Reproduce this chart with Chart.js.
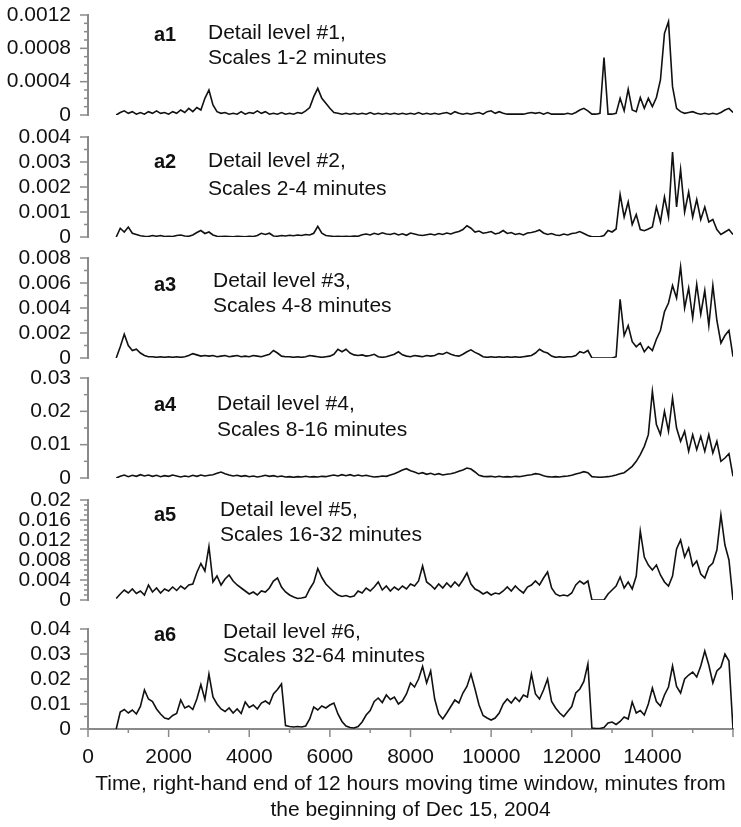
<!DOCTYPE html>
<html>
<head>
<meta charset="utf-8">
<script src="https://cdn.jsdelivr.net/npm/chart.js@4.4.1/dist/chart.umd.min.js"></script>
<style>
  html, body { margin: 0; padding: 0; background: #ffffff; }
  #wrap { position: relative; width: 741px; height: 827px; overflow: hidden;
          font-family: "Liberation Sans", Arial, sans-serif; color: #111; }
  #wrap canvas { position: absolute; left: 0; }
  .tag { position: absolute; font-weight: bold; font-size: 20px; line-height: 26px; white-space: nowrap; z-index: 5; }
  .note { position: absolute; font-size: 21px; line-height: 26px; white-space: nowrap; z-index: 5; }
</style>
</head>
<body>
<div id="wrap"></div>
<script>
// ---------------- DATA ----------------
const minutes = [
  700, 800, 900,
  1000, 1100, 1200, 1300, 1400, 1500, 1600, 1700, 1800, 1900,
  2000, 2100, 2200, 2300, 2400, 2500, 2600, 2700, 2800, 2900,
  3000, 3100, 3200, 3300, 3400, 3500, 3600, 3700, 3800, 3900,
  4000, 4100, 4200, 4300, 4400, 4500, 4600, 4700, 4800, 4900,
  5000, 5100, 5200, 5300, 5400, 5500, 5600, 5700, 5800, 5900,
  6000, 6100, 6200, 6300, 6400, 6500, 6600, 6700, 6800, 6900,
  7000, 7100, 7200, 7300, 7400, 7500, 7600, 7700, 7800, 7900,
  8000, 8100, 8200, 8300, 8400, 8500, 8600, 8700, 8800, 8900,
  9000, 9100, 9200, 9300, 9400, 9500, 9600, 9700, 9800, 9900,
  10000, 10100, 10200, 10300, 10400, 10500, 10600, 10700, 10800, 10900,
  11000, 11100, 11200, 11300, 11400, 11500, 11600, 11700, 11800, 11900,
  12000, 12100, 12200, 12300, 12400, 12500, 12600, 12700, 12800, 12900,
  13000, 13100, 13200, 13300, 13400, 13500, 13600, 13700, 13800, 13900,
  14000, 14100, 14200, 14300, 14400, 14500, 14600, 14700, 14800, 14900,
  15000, 15100, 15200, 15300, 15400, 15500, 15600, 15700, 15800, 15900,
  16000
];

const detail1 = [
  0, 0.00003, 0.00005,
  0.00002, 0.00004, 0.00001, 0.00003, 0.00001, 0.00004, 0.00002, 0.00005, 0.00002, 0.00003,
  0.00001, 0.00004, 0.00002, 0.00006, 0.00003, 0.00008, 0.00004, 0.00009, 0.00006, 0.0002,
  0.0003, 0.00012, 0.00004, 0.00002, 0.00003, 0.00001, 0.00002, 0.00001, 0.00004, 0.00001,
  0.00003, 0.00002, 0.00005, 0.00002, 0.00004, 0.00001, 0.00002, 0.00001, 0.00003, 0.00001,
  0.00002, 0.00001, 0.00003, 0.00002, 0.00005, 0.00009, 0.00022, 0.00032, 0.0002, 0.00014,
  0.00008, 0.00003, 0.00002, 0.00001, 0.00002, 0.00001, 0.00002, 0.00001, 0.00002, 0.00001,
  0.00003, 0.00001, 0.00002, 0.00001, 0.00002, 0.00001, 0.00002, 0.00001, 0.00002, 0.00001,
  0.00002, 0.00001, 0.00003, 0.00001, 0.00002, 0.00001, 0.00002, 0.00001, 0.00002, 0.00003,
  0.00001, 0.00004, 0.00002, 0.00001, 0.00002, 0.00001, 0.00002, 0.00003, 0.00001, 0.00004,
  0.00005, 0.00002, 0.00004, 0.00002, 0.00001, 0.00001, 0.00001, 0.00001, 0.00001, 0.00002,
  0.00003, 0.00002, 0.00003, 0.00001, 0.00003, 0.00001, 0.00001, 0.00001, 0.00001, 0.00002,
  0.00001, 0.00003, 0.00006, 0.00008, 0.00005, 0.00001, 0.00001, 0.00002, 0.00069, 0.00001,
  0.00001, 0.00002, 0.0002, 0.00005, 0.00031, 0.00006, 0.00004, 0.00021, 0.00008, 0.0002,
  0.0001, 0.00021, 0.00042, 0.00098, 0.00112, 0.00034, 0.00008, 0.00004, 0.00002, 0.00003,
  0.00004, 0.00002, 0.00001, 0.00002, 0.00001, 0.00002, 0.00001, 0.00003, 0.00006, 0.00008,
  0.00003
];

const detail2 = [
  0, 0.00035, 0.0002,
  0.0004, 0.00015, 0.0001, 0.00005, 0.00003, 0.00002, 0.00006, 0.00003, 0.00006, 0.00002,
  0.00003, 0.00002, 0.00006, 0.00008, 0.00004, 0.00003, 0.00008, 0.00018, 0.00026, 0.00014,
  0.0002, 0.00008, 0.00003, 0.00002, 0.00003, 0.00002, 0.00001, 0.00003, 0.00002, 0.00001,
  0.00003, 0.00002, 0.00006, 0.00015, 0.0001, 0.00015, 0.00004, 0.00003, 0.00006, 0.00004,
  0.00007, 0.00005, 0.00008, 0.00006, 0.0001, 0.00008, 0.00015, 0.00043, 0.00015, 0.00006,
  0.00004, 0.00002, 0.00003, 0.00002, 0.00003, 0.00002, 0.00004, 0.00003, 0.00009, 0.00012,
  0.00008, 0.00015, 0.0001, 0.00017, 0.00012, 0.0001, 0.00015, 0.00008, 0.00013, 0.00007,
  0.00016, 0.00012, 0.00008, 0.00006, 0.00009, 0.00012, 0.00008, 0.00014, 0.0001, 0.00016,
  0.00012, 0.00018, 0.00022, 0.0003, 0.00045, 0.00035, 0.0002, 0.00024, 0.00015, 0.00018,
  0.00022, 0.00012, 0.00016, 0.00026, 0.00014, 0.00018, 0.0001, 0.00014, 0.00008, 0.00016,
  0.00018, 0.00022, 0.00028, 0.00016, 0.0001, 0.00014, 0.00008, 0.00006, 0.00012, 0.00008,
  0.00014, 0.00016, 0.00022, 0.00014, 0.00006, 0.00001, 0.00001, 0.00001, 0.00006, 0.00026,
  0.0002, 0.00032, 0.0017, 0.0008, 0.0014, 0.0005, 0.0009, 0.0003, 0.00025, 0.00032,
  0.0004, 0.0012, 0.0006, 0.0016, 0.0008, 0.0034, 0.0012, 0.0027, 0.001, 0.0018,
  0.0008, 0.0015, 0.0007, 0.0012, 0.0006, 0.0007, 0.0003, 0.0001, 0.0002, 0.0003,
  0.0001
];

const detail3 = [
  0, 0.0009, 0.0019,
  0.001, 0.0006, 0.0007, 0.0004, 0.0002, 0.0001, 0.0001, 0.00005, 0.0001, 0.00005,
  0.0001, 0.00005, 0.0001, 0.00005, 0.0001, 0.0002, 0.00035, 0.00025, 0.00015, 0.0002,
  0.00015, 0.0002, 0.0001, 0.00015, 0.0002, 0.0001, 0.00015, 0.0002, 0.0001, 0.00015,
  0.0001, 0.0002, 0.00015, 0.0001, 0.0002, 0.0003, 0.0006, 0.0004, 0.00015, 0.0001,
  0.0001, 0.00005, 0.0001, 0.00005, 0.0001, 0.0002, 0.00015, 0.0001, 0.00005, 0.0001,
  0.00015, 0.0003, 0.0007, 0.0005, 0.0007, 0.0004, 0.00025, 0.0002, 0.00025, 0.00015,
  0.0002, 0.0003, 0.0001, 0.00005, 0.0001, 0.0002, 0.0003, 0.0005, 0.00025, 0.00015,
  0.0001, 0.0002, 0.00015, 0.0001, 0.0002, 0.00015, 0.0002, 0.00035, 0.0003, 0.00045,
  0.0003, 0.0002, 0.00015, 0.0003, 0.0005, 0.00065, 0.00045, 0.0003, 0.0001, 0.00005,
  0.0001, 0.00005, 0.0001, 0.00005, 0.0001, 0.00005, 0.0001, 0.00005, 0.0001, 0.00015,
  0.0002, 0.0004, 0.0007, 0.0005, 0.0004, 0.00015, 0.00005, 0.0001, 0.00005, 0.0001,
  0.0001, 0.0002, 0.0005, 0.0004, 0.0006, 0, 0, 0, 0, 0,
  0, 0.0001, 0.0047, 0.0018, 0.0026, 0.0013, 0.0009, 0.0012, 0.0005, 0.0009,
  0.0006, 0.0015, 0.0022, 0.0037, 0.0044, 0.0058, 0.0048, 0.0073, 0.004, 0.0056,
  0.0032, 0.0059, 0.0035, 0.0054, 0.0026, 0.0058, 0.003, 0.0012, 0.0018, 0.0022,
  0.0001
];

const detail4 = [
  0, 0.0005, 0.0009,
  0.0004, 0.0008, 0.0005, 0.001, 0.0006, 0.0009, 0.0005, 0.0008, 0.0004, 0.0007,
  0.0005, 0.0009, 0.0006, 0.0003, 0.0006, 0.0004, 0.0008, 0.0005, 0.0009, 0.0006,
  0.0008, 0.001, 0.0014, 0.0018, 0.0013, 0.0009, 0.0006, 0.0008, 0.0005, 0.0007,
  0.0004, 0.0006, 0.0003, 0.0005, 0.0008, 0.0005, 0.0007, 0.0004, 0.0006, 0.0003,
  0.0004, 0.0002, 0.0004, 0.0003, 0.0005, 0.0003, 0.0004, 0.0003, 0.0005, 0.0004,
  0.0007, 0.0009, 0.0006, 0.001, 0.0007, 0.001, 0.0006, 0.0009, 0.0006, 0.0008,
  0.0005, 0.0003, 0.0004, 0.0006, 0.0005, 0.0009, 0.0013, 0.0018, 0.0024, 0.0028,
  0.0022, 0.0018, 0.0013, 0.0016, 0.0011, 0.0014, 0.001, 0.0013, 0.0009, 0.0011,
  0.0013, 0.0016, 0.002, 0.0024, 0.003, 0.0027, 0.0018, 0.0008, 0.0005, 0.0004,
  0.0005, 0.0003, 0.0005, 0.0003, 0.0004, 0.0003, 0.0005, 0.0004, 0.0006, 0.0008,
  0.001, 0.0013, 0.0011, 0.0007, 0.0004, 0.0003, 0.0004, 0.0003, 0.0005, 0.0006,
  0.0008, 0.0012, 0.0015, 0.0019, 0.0016, 0.0004, 0.0003, 0.0002, 0.0003, 0.0004,
  0.0006, 0.0009, 0.0013, 0.0016, 0.0025, 0.0035, 0.005, 0.007, 0.0095, 0.013,
  0.026, 0.016, 0.013, 0.02, 0.014, 0.024, 0.015, 0.011, 0.014, 0.008,
  0.013, 0.0085, 0.0125, 0.008, 0.013, 0.0075, 0.011, 0.005, 0.006, 0.0073,
  0.0005
];

const detail5 = [
  0.0003, 0.0012, 0.002,
  0.0014, 0.0022, 0.0013, 0.0018, 0.001, 0.003, 0.0016, 0.0024, 0.0014, 0.0022,
  0.0018, 0.0026, 0.0019, 0.0028, 0.0022, 0.003, 0.0032, 0.0055, 0.0073, 0.0058,
  0.0107, 0.0036, 0.0048, 0.003, 0.0042, 0.005, 0.0038, 0.003, 0.0024, 0.0018,
  0.0012, 0.0016, 0.001, 0.0018, 0.0016, 0.0024, 0.0038, 0.0044, 0.0026, 0.0016,
  0.001, 0.0006, 0.0003, 0.0004, 0.0006, 0.0022, 0.0035, 0.0063, 0.0045, 0.0032,
  0.0024, 0.0016, 0.001, 0.0007, 0.0009, 0.0006, 0.0008, 0.0018, 0.0014, 0.0024,
  0.0018, 0.0026, 0.0036, 0.002, 0.0028, 0.0018, 0.0026, 0.002, 0.0028, 0.0022,
  0.0032, 0.0028, 0.0038, 0.0068, 0.0036, 0.003, 0.0022, 0.0032, 0.0024, 0.0034,
  0.0026, 0.0036, 0.0028, 0.004, 0.0054, 0.0032, 0.0022, 0.0018, 0.0012, 0.0016,
  0.001, 0.0014, 0.0012, 0.0018, 0.0026, 0.0018, 0.0028, 0.002, 0.0014, 0.0026,
  0.003, 0.0038, 0.003, 0.0044, 0.0056, 0.0024, 0.0012, 0.0008, 0.001, 0.0008,
  0.0014, 0.003, 0.0038, 0.0032, 0.0038, 0, 0, 0, 0, 0.0012,
  0.002, 0.0028, 0.0046, 0.0024, 0.0036, 0.0022, 0.0048, 0.0138, 0.0086, 0.007,
  0.006, 0.007, 0.005, 0.0036, 0.0028, 0.0048, 0.0102, 0.012, 0.0086, 0.0104,
  0.0068, 0.0078, 0.0052, 0.0044, 0.0066, 0.0074, 0.01, 0.017, 0.011, 0.008,
  0
];

const detail6 = [
  0, 0.0068, 0.0078,
  0.0064, 0.0076, 0.006, 0.009, 0.0156, 0.012, 0.011, 0.008, 0.006, 0.0044,
  0.004, 0.0054, 0.0062, 0.0116, 0.0084, 0.0092, 0.0078, 0.012, 0.0178, 0.0118,
  0.022, 0.0128, 0.01, 0.008, 0.007, 0.0084, 0.0064, 0.008, 0.0062, 0.0108,
  0.0086, 0.0096, 0.008, 0.0104, 0.0112, 0.01, 0.014, 0.0158, 0.018, 0.0014,
  0.001, 0.0008, 0.001, 0.0008, 0.0012, 0.004, 0.0088, 0.0076, 0.0092, 0.0084,
  0.0096, 0.0104, 0.006, 0.003, 0.0012, 0.0006, 0.0004, 0.001, 0.0028, 0.0056,
  0.0074, 0.011, 0.0124, 0.0106, 0.0136, 0.0118, 0.0128, 0.01, 0.0112, 0.014,
  0.0184, 0.0168, 0.02, 0.025, 0.0184, 0.0232, 0.012, 0.006, 0.004, 0.0064,
  0.009, 0.0116, 0.0104, 0.0144, 0.017, 0.022, 0.016, 0.0096, 0.0054, 0.0044,
  0.0036, 0.0044, 0.0064, 0.01, 0.012, 0.0104, 0.0126, 0.011, 0.0136, 0.0128,
  0.022, 0.014, 0.012, 0.0156, 0.02, 0.011, 0.0084, 0.0064, 0.005, 0.007,
  0.009, 0.0144, 0.016, 0.019, 0.026, 0.0004, 0.0002, 0.0002, 0.0006, 0.0024,
  0.0028, 0.0018, 0.003, 0.0048, 0.004, 0.0108, 0.0064, 0.0074, 0.0056, 0.01,
  0.0164, 0.011, 0.0092, 0.0136, 0.0168, 0.0252, 0.017, 0.0144, 0.02, 0.0216,
  0.0228, 0.0208, 0.0252, 0.0312, 0.0256, 0.0184, 0.0232, 0.0248, 0.03, 0.0272,
  0
];

// y tick labels of each panel
const yTicks1 = [0, 0.0004, 0.0008, 0.0012];
const yTicks2 = [0, 0.001, 0.002, 0.003, 0.004];
const yTicks3 = [0, 0.002, 0.004, 0.006, 0.008];
const yTicks4 = [0, 0.01, 0.02, 0.03];
const yTicks5 = [0, 0.004, 0.008, 0.012, 0.016, 0.02];
const yTicks6 = [0, 0.01, 0.02, 0.03, 0.04];

// x tick labels
const xTicks = [0, 2000, 4000, 6000, 8000, 10000, 12000, 14000];
const xMax = 16000;

// panel texts
const panelTags = ['a1', 'a2', 'a3', 'a4', 'a5', 'a6'];
const noteLine1 = ['Detail level #1,', 'Detail level #2,', 'Detail level #3,', 'Detail level #4,', 'Detail level #5,', 'Detail level #6,'];
const noteLine2 = ['Scales 1-2 minutes', 'Scales 2-4 minutes', 'Scales 4-8 minutes', 'Scales 8-16 minutes', 'Scales 16-32 minutes', 'Scales 32-64 minutes'];
const xTitle = ['Time, right-hand end of 12 hours moving time window, minutes from', 'the beginning of Dec 15, 2004'];

// ---------------- LAYOUT / STYLE ----------------
const series = [detail1, detail2, detail3, detail4, detail5, detail6];
const yTickSets = [yTicks1, yTicks2, yTicks3, yTicks4, yTicks5, yTicks6];
const minorSteps = [0.0001, 0.0005, 0.001, 0.005, 0.001, 0.005];
const layout = [
  { top: 15,  tagY: 34,  noteX: 208, l1: 32,  l2: 57  },
  { top: 137, tagY: 161, noteX: 208, l1: 160, l2: 188 },
  { top: 258, tagY: 284, noteX: 213, l1: 280, l2: 305 },
  { top: 378, tagY: 404, noteX: 217, l1: 403, l2: 429 },
  { top: 500, tagY: 514, noteX: 220, l1: 509, l2: 534 },
  { top: 629, tagY: 634, noteX: 223, l1: 631, l2: 655 }
];
const PLOT_H = 100, PAD = 15, AXIS_W = 88, RIGHT_PAD = 8;
const FONT = "'Liberation Sans', Arial, sans-serif";
const AXIS_COLOR = '#8a8a8a';
const TEXT_COLOR = '#111111';

const fmt = v => (v === 0 ? '0' : String(parseFloat(Number(v).toFixed(6))));

const tickMarks = {
  id: 'tickMarks',
  afterDraw(chart, args, opts) {
    const ctx = chart.ctx;
    ctx.save();
    ctx.strokeStyle = AXIS_COLOR;
    ctx.lineWidth = 1.5;
    const ys = chart.scales.y;
    const n = Math.round(ys.max / opts.minor);
    for (let i = 0; i <= n; i++) {
      const v = i * opts.minor;
      const isMajor = opts.majors.some(m => Math.abs(m - v) < opts.minor * 1e-3);
      const py = ys.getPixelForValue(v);
      const len = isMajor ? 8 : 4;
      ctx.beginPath();
      ctx.moveTo(ys.right - len, py);
      ctx.lineTo(ys.right, py);
      ctx.stroke();
    }
    if (opts.xAxis) {
      const xs = chart.scales.x;
      for (let v = 0; v <= xMax; v += 1000) {
        const px = xs.getPixelForValue(v);
        const len = (v % 2000 === 0) ? 8 : 4;
        ctx.beginPath();
        ctx.moveTo(px, xs.top);
        ctx.lineTo(px, xs.top + len);
        ctx.stroke();
      }
    }
    ctx.restore();
  }
};

const wrap = document.getElementById('wrap');

series.forEach((vals, k) => {
  const isLast = k === series.length - 1;
  const L = layout[k];
  const canvasTop = L.top - PAD;
  const h = isLast ? 827 - canvasTop : PLOT_H + 2 * PAD;
  const cv = document.createElement('canvas');
  cv.width = 741; cv.height = h;
  cv.style.width = '741px'; cv.style.height = h + 'px';
  cv.style.top = canvasTop + 'px';
  wrap.appendChild(cv);

  const yT = yTickSets[k];
  new Chart(cv, {
    type: 'line',
    data: {
      datasets: [{
        data: minutes.map((m, i) => ({ x: m, y: vals[i] })),
        borderColor: '#111111',
        borderWidth: 1.6,
        pointRadius: 0,
        tension: 0,
        fill: false
      }]
    },
    options: {
      responsive: false,
      animation: false,
      events: [],
      layout: { padding: { top: PAD, bottom: isLast ? 0 : PAD, left: 0, right: RIGHT_PAD } },
      plugins: {
        legend: { display: false },
        tooltip: { enabled: false },
        tickMarks: { minor: minorSteps[k], majors: yT, xAxis: isLast }
      },
      scales: {
        x: {
          type: 'linear',
          min: 0, max: xMax,
          display: isLast,
          afterBuildTicks: s => { s.ticks = xTicks.map(v => ({ value: v })); },
          afterFit: s => {
            if (isLast) s.height = h - PAD - PLOT_H;
            s.paddingLeft = 0; s.paddingRight = 0; s.paddingTop = 0; s.paddingBottom = 0;
          },
          grid: { display: false, drawTicks: false },
          border: { display: true, color: AXIS_COLOR, width: 2 },
          ticks: {
            padding: 16, color: TEXT_COLOR, autoSkip: false, maxRotation: 0,
            font: { family: FONT, size: 21 },
            callback: v => String(v)
          },
          title: {
            display: isLast,
            text: xTitle,
            color: TEXT_COLOR,
            font: { family: FONT, size: 21, lineHeight: 1.24 },
            padding: { top: 0, bottom: 4 }
          }
        },
        y: {
          type: 'linear',
          min: 0, max: yT[yT.length - 1],
          afterBuildTicks: s => { s.ticks = yT.map(v => ({ value: v })); },
          afterFit: s => {
            s.width = AXIS_W;
            s.paddingTop = 0; s.paddingBottom = 0; s.paddingLeft = 0; s.paddingRight = 0;
          },
          grid: { display: false, drawTicks: false },
          border: { display: true, color: AXIS_COLOR, width: 2 },
          ticks: {
            padding: 17, color: TEXT_COLOR, autoSkip: false,
            font: { family: FONT, size: 21 },
            callback: v => fmt(v)
          }
        }
      }
    },
    plugins: [tickMarks]
  });

  // panel annotations as real text
  const tag = document.createElement('div');
  tag.className = 'tag';
  tag.textContent = panelTags[k];
  tag.style.left = '154px';
  tag.style.top = (L.tagY - 13) + 'px';
  wrap.appendChild(tag);

  [[noteLine1[k], L.l1], [noteLine2[k], L.l2]].forEach(([txt, cy]) => {
    const d = document.createElement('div');
    d.className = 'note';
    d.textContent = txt;
    d.style.left = L.noteX + 'px';
    d.style.top = (cy - 13) + 'px';
    wrap.appendChild(d);
  });
});
</script>
</body>
</html>
